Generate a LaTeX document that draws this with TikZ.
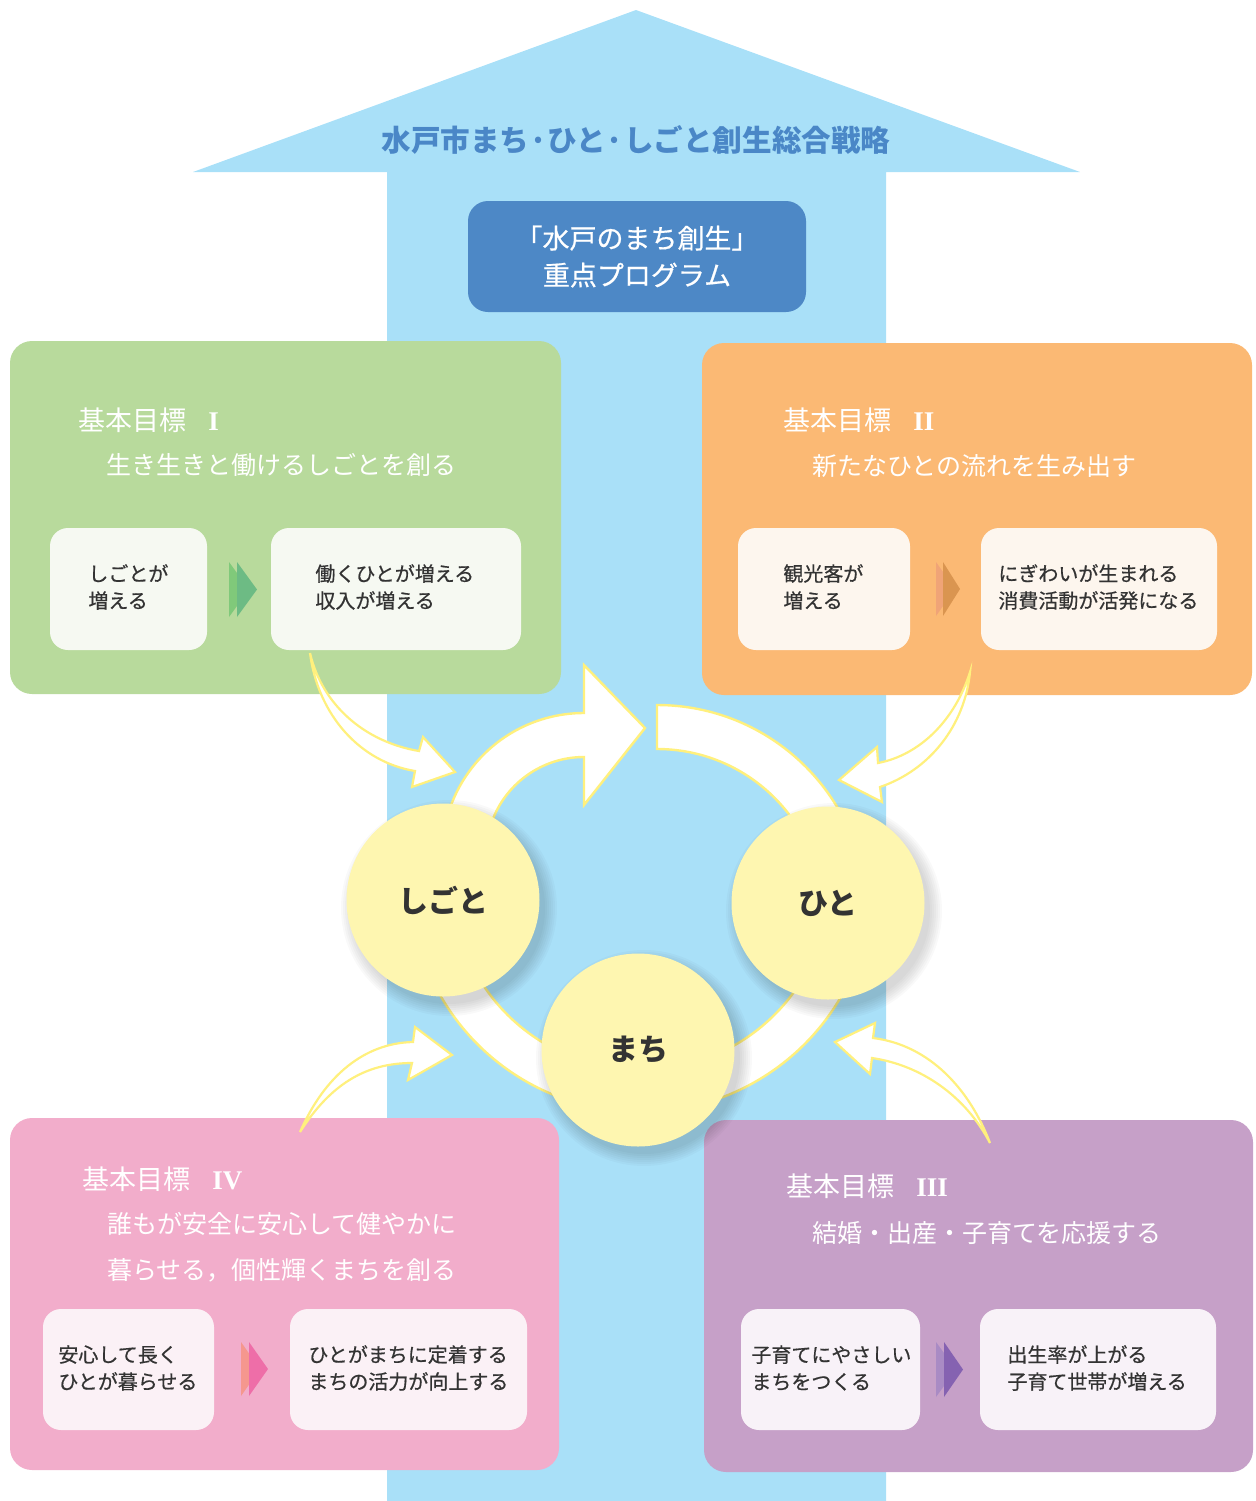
\documentclass[tikz,border=0pt]{standalone}
\usepackage{fontspec}
\setmainfont{Noto Sans CJK JP}
\newfontfamily\jpmed[FakeBold=0.6]{Noto Sans CJK JP}
\newfontfamily\romanfont{Liberation Serif}
\usetikzlibrary{shapes.geometric}
\definecolor{shaft}{HTML}{A9E0F8}
\definecolor{titleblue}{HTML}{4A87C7}
\definecolor{progblue}{HTML}{4D88C6}
\definecolor{gbox}{HTML}{B8DA9C}
\definecolor{gin}{HTML}{F6F9F2}
\definecolor{gchA}{HTML}{80C97A}
\definecolor{gchB}{HTML}{6DBB84}
\definecolor{obox}{HTML}{FBB974}
\definecolor{oin}{HTML}{FDF6EE}
\definecolor{ochA}{HTML}{F0A477}
\definecolor{ochB}{HTML}{DA9550}
\definecolor{pbox}{HTML}{F2ADCB}
\definecolor{pin}{HTML}{FBF1F6}
\definecolor{pchA}{HTML}{F5978E}
\definecolor{pchB}{HTML}{EE6EA8}
\definecolor{vbox}{HTML}{C6A0C8}
\definecolor{vin}{HTML}{F8F2F8}
\definecolor{vchA}{HTML}{A98BC4}
\definecolor{vchB}{HTML}{8562B1}
\definecolor{ringline}{HTML}{FFF07D}
\definecolor{ballfill}{HTML}{FEF6B0}
\definecolor{ink}{HTML}{333333}
\newcommand{\goalnum}[1]{\hspace{11pt}{\romanfont\bfseries\fontsize{13.5}{16}\selectfont #1}}
\begin{document}
\begin{tikzpicture}[x=0.5pt,y=-0.5pt,
  outerbox/.style={rectangle, rounded corners=11pt, inner sep=0pt},
  innerbox/.style={rectangle, rounded corners=9pt, inner sep=0pt, minimum height=61pt},
  goaltitle/.style={anchor=west, inner sep=0pt, text=white, font=\fontsize{13.5}{16}\selectfont},
  goalsub/.style={anchor=west, inner sep=0pt, text=white, font=\fontsize{12.5}{15}\selectfont},
  itemtext/.style={anchor=west, inner sep=0pt, text=ink, align=left, font=\jpmed\fontsize{10}{13.5}\selectfont},
  band/.style={fill=white, draw=ringline, line width=1.2pt},
  feed/.style={fill=white, draw=ringline, line width=1.1pt, line join=miter},
  ball/.style={circle, fill=ballfill, minimum size=96.5pt, inner sep=0pt, text=ink, font=\bfseries\fontsize{15}{18}\selectfont}
]
\path[use as bounding box] (0,0) rectangle (1255,1501);
% big upward arrow
\fill[shaft] (636,10) -- (1080,172) -- (886,172) -- (886,1501) -- (387,1501) -- (387,172) -- (193,172) -- cycle;
\node[inner sep=0pt, text=titleblue, font=\bfseries\fontsize{14.8}{18}\selectfont] (strategy) at (636,140) {水戸市まち·ひと·しごと創生総合戦略};
\node[outerbox, rounded corners=10pt, fill=progblue, minimum width=169pt, minimum height=55.5pt, text=white, align=center, font=\jpmed\fontsize{13.5}{18.5}\selectfont] (program) at (637,256.5) {「水戸のまち創生」\\重点プログラム};

% goal boxes
\node[outerbox, fill=gbox, minimum width=275.5pt, minimum height=176.5pt] (goal1) at (285.5,517.5) {};
\node[outerbox, fill=obox, minimum width=275pt, minimum height=176pt] (goal2) at (977,519) {};
\node[outerbox, fill=pbox, minimum width=274.5pt, minimum height=176pt] (goal4) at (284.5,1294) {};
\node[outerbox, fill=vbox, minimum width=274.5pt, minimum height=176pt] (goal3) at (978.5,1296) {};

% goal I
\node[goaltitle] (g1t) at (78,420) {基本目標\goalnum{I}};
\node[goalsub] (g1s) at (106,465) {生き生きと働けるしごとを創る};
\node[innerbox, fill=gin, minimum width=78.5pt] (g1a) at (128.5,589) {};
\node[innerbox, fill=gin, minimum width=125pt] (g1b) at (396,589) {};
\node[itemtext] (g1at) at (88,587) {しごとが\\増える};
\node[itemtext] (g1bt) at (315,587) {働くひとが増える\\収入が増える};
\fill[gchA] (229,562) -- (229,617) -- (249,589.5) -- cycle;
\fill[gchB] (237,562) -- (237,617) -- (257,589.5) -- cycle;

% goal II
\node[goaltitle] (g2t) at (783,420) {基本目標\goalnum{II}};
\node[goalsub] (g2s) at (812,466) {新たなひとの流れを生み出す};
\node[innerbox, fill=oin, minimum width=86pt] (g2a) at (824,589) {};
\node[innerbox, fill=oin, minimum width=118pt] (g2b) at (1099,589) {};
\node[itemtext] (g2at) at (783,587) {観光客が\\増える};
\node[itemtext] (g2bt) at (998,587) {にぎわいが生まれる\\消費活動が活発になる};
\fill[ochA] (936,562) -- (936,616) -- (955,589) -- cycle;
\fill[ochB] (943,562) -- (943,616) -- (960,589) -- cycle;

% goal IV
\node[goaltitle] (g4t) at (82,1179) {基本目標\goalnum{IV}};
\node[goalsub] (g4s) at (107,1224) {誰もが安全に安心して健やかに};
\node[goalsub] (g4s2) at (107,1270) {暮らせる，個性輝くまちを創る};
\node[innerbox, fill=pin, minimum width=85.5pt, minimum height=60.5pt] (g4a) at (128.5,1369.5) {};
\node[innerbox, fill=pin, minimum width=118.5pt, minimum height=60.5pt] (g4b) at (408.5,1369.5) {};
\node[itemtext] (g4at) at (58,1368) {安心して長く\\ひとが暮らせる};
\node[itemtext] (g4bt) at (308,1368) {ひとがまちに定着する\\まちの活力が向上する};
\fill[pchA] (241,1342) -- (241,1396) -- (260,1369) -- cycle;
\fill[pchB] (249,1342) -- (249,1396) -- (268,1369) -- cycle;

% goal III
\node[goaltitle] (g3t) at (786,1186) {基本目標\goalnum{III}};
\node[goalsub] (g3s) at (812,1233) {結婚・出産・子育てを応援する};
\node[innerbox, fill=vin, minimum width=89.5pt, minimum height=60.5pt] (g3a) at (830.5,1369.5) {};
\node[innerbox, fill=vin, minimum width=118pt, minimum height=60.5pt] (g3b) at (1098,1369.5) {};
\node[itemtext] (g3at) at (751,1368) {子育てにやさしい\\まちをつくる};
\node[itemtext] (g3bt) at (1007,1368) {出生率が上がる\\子育て世帯が増える};
\fill[vchA] (936,1342) -- (936,1397) -- (956,1369.5) -- cycle;
\fill[vchB] (944,1342) -- (944,1397) -- (963,1369.5) -- cycle;

% cycle bands
\filldraw[band] ([shift={(10:231)}]641,881) arc (10:170:231) -- ([shift={(170:189)}]641,881) arc (170:10:189) -- cycle;
\filldraw[band] ([shift={(270:210)}]657,915) arc (270:358:210) -- ([shift={(358:166)}]657,915) arc (358:270:166) -- cycle;
\filldraw[band] ([shift={(160:142)}]584,855) arc (160:270:142) -- (584,665) -- (645,728) -- (584,805) -- (584,757) arc (270:160:98) -- cycle;

% circle shadows
\foreach \c in {(443,900),(828,903),(638,1050)}{
  \foreach \k in {0,2,...,12}{
    \fill[black, opacity=0.025] \c ++(6,8) circle (96+\k);
  }
}
\node[ball] (shigoto) at (443,900) {しごと};
\node[ball] (hito) at (828,903) {ひと};
\node[ball] (machi) at (638,1050) {まち};

% feed arrows
\filldraw[feed] (310,653) .. controls (322,705) and (365,742) .. (419,751) -- (423,737) -- (455,772) -- (412,787) -- (415,771) .. controls (360,762) and (318,715) .. (310,653) -- cycle;
\filldraw[feed] (970,672) .. controls (955,720) and (920,755) .. (878,763) -- (877,747) -- (839,780) -- (882,802) -- (880,787) .. controls (930,770) and (965,725) .. (970,672) -- cycle;
\filldraw[feed] (300,1132) .. controls (325,1075) and (365,1043) .. (413,1042) -- (415,1027) -- (452,1055) -- (408,1080) -- (412,1063) .. controls (365,1063) and (330,1085) .. (300,1132) -- cycle;
\filldraw[feed] (990,1143) .. controls (970,1090) and (930,1045) .. (873,1038) -- (875,1023) -- (835,1042) -- (870,1074) -- (872,1058) .. controls (920,1065) and (965,1095) .. (990,1143) -- cycle;
\end{tikzpicture}
\end{document}
